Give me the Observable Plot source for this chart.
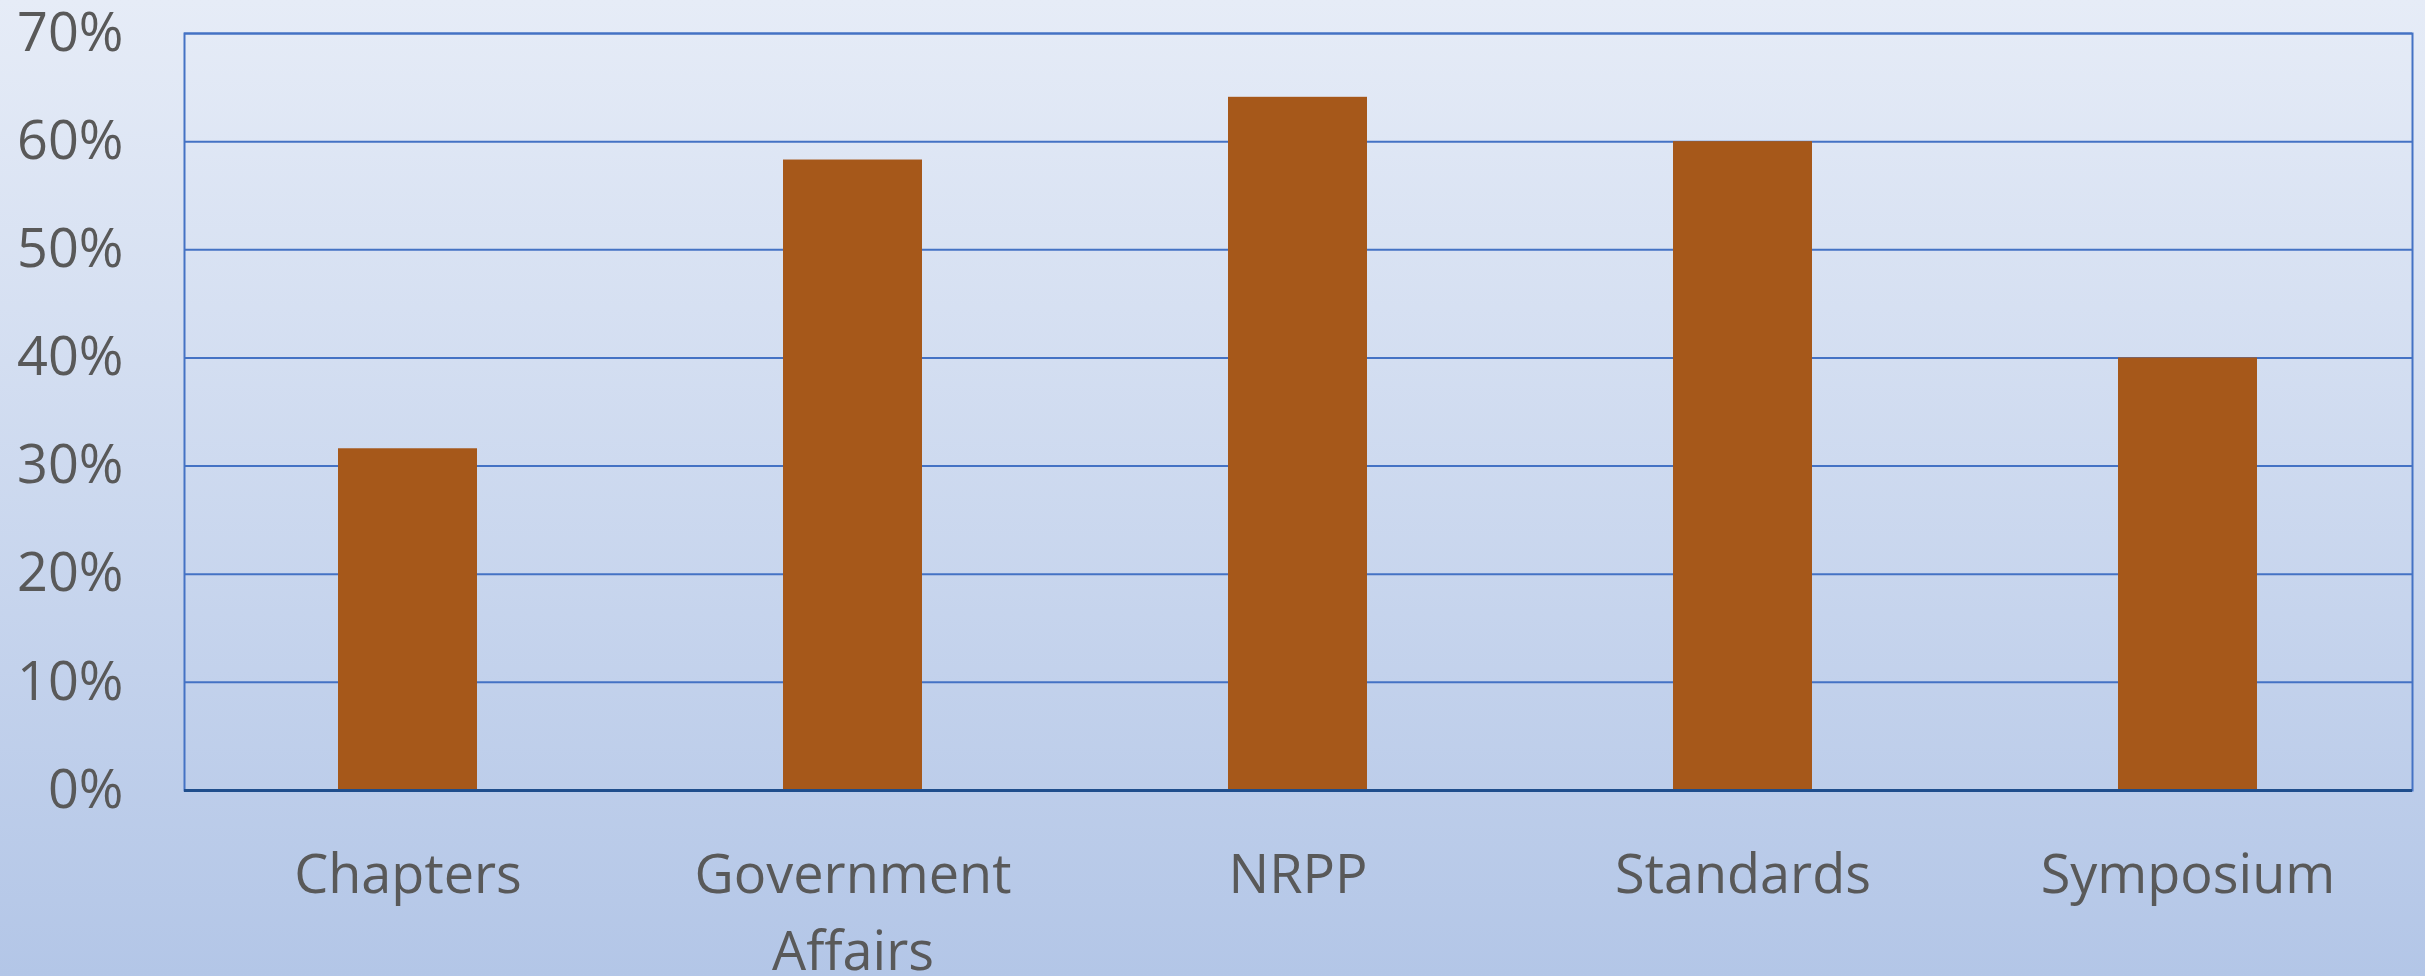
<!DOCTYPE html>
<html>
<head>
<meta charset="utf-8">
<script src="https://cdn.jsdelivr.net/npm/d3@7"></script>
<script src="https://cdn.jsdelivr.net/npm/@observablehq/plot@0.6"></script>
<style>
  html, body { margin: 0; padding: 0; }
  body {
    width: 2425px; height: 976px; overflow: hidden;
    background: linear-gradient(to bottom, #e6ecf7 0%, #b3c6e7 100%);
  }
  svg { display: block; background: transparent; }
</style>
</head>
<body>
<div id="chart"></div>
<script>
const categories = ["Chapters", "Government Affairs", "NRPP", "Standards", "Symposium"];
const values = [0.316, 0.583, 0.641, 0.600, 0.400];
const yTicks = [0, 0.1, 0.2, 0.3, 0.4, 0.5, 0.6, 0.7];
const xLabels = ["Chapters", "Government\nAffairs", "NRPP", "Standards", "Symposium"];

const data = categories.map((c, i) => ({category: c, value: values[i]}));
const labelOf = new Map(categories.map((c, i) => [c, xLabels[i]]));

const chart = Plot.plot({
  width: 2425,
  height: 976,
  marginLeft: 184,
  marginRight: 13,
  marginTop: 33,
  marginBottom: 186,
  style: {fontFamily: "'Open Sans', sans-serif", fontSize: "54px", color: "#595959", background: "transparent", overflow: "visible"},
  x: {domain: categories, paddingInner: 0.687, paddingOuter: 0.3435, label: null},
  y: {domain: [0, 0.7], label: null},
  marks: [
    Plot.gridY(yTicks, {stroke: "#4472c4", strokeOpacity: 1, strokeWidth: 2}),
    Plot.frame({stroke: "#4472c4", strokeWidth: 2}),
    Plot.barY(data, {x: "category", y: "value", fill: "#a6581a"}),
    Plot.ruleY([0], {stroke: "#1f4e8c", strokeWidth: 3}),
    Plot.axisY(yTicks, {tickSize: 0, tickPadding: 61, tickFormat: d3.format(".0%"), fill: "#595959", fontSize: 54, label: null}),
    Plot.axisX({tickSize: 0, tickPadding: 47, tickFormat: d => labelOf.get(d), fill: "#595959", fontSize: 54, lineHeight: 1.44, label: null})
  ]
});
document.getElementById("chart").appendChild(chart);
</script>
</body>
</html>
